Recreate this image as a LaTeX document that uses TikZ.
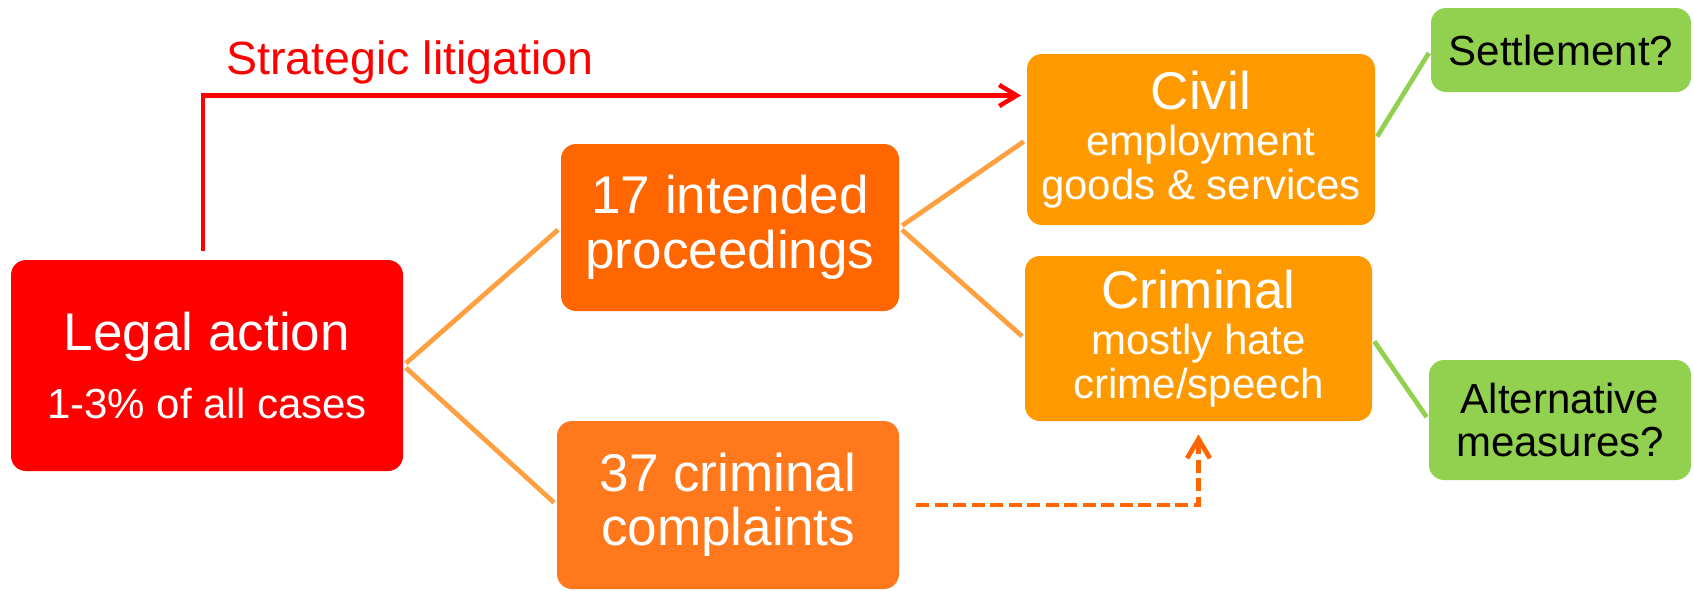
\documentclass[tikz,border=0pt]{standalone}
\usepackage{fontspec}
\setmainfont{Liberation Sans}
\definecolor{legalred}{RGB}{255,0,0}
\definecolor{procorange}{RGB}{255,102,0}
\definecolor{complorange}{RGB}{255,120,28}
\definecolor{branchorange}{RGB}{255,153,0}
\definecolor{linkorange}{RGB}{255,160,64}
\definecolor{outcomegreen}{RGB}{146,208,80}
\usetikzlibrary{arrows.meta}

\newcommand{\headfont}{\fontsize{30.2}{31}\selectfont}
\newcommand{\subfont}{\fontsize{23.9}{25}\selectfont}

\begin{document}
\begin{tikzpicture}[
  box/.style={rectangle, rounded corners=0.3cm, align=center, inner sep=0pt, text=white},
  outcome/.style={box, fill=outcomegreen, text=black, font=\fontsize{23.9}{25}\selectfont},
  link/.style={line width=2.7pt, linkorange, shorten <=2pt, shorten >=2pt},
  greenlink/.style={line width=2.7pt, outcomegreen, shorten <=2pt, shorten >=2pt},
  litarrow/.style={-{Straight Barb[length=10pt,width=12pt]}, line width=2.5pt, legalred},
  dasharrow/.style={-{Straight Barb[length=11pt,width=13pt]}, line width=2.7pt, procorange, dash pattern=on 0.26cm off 0.11cm}
]
  \useasboundingbox (0,0) rectangle (33.88,-11.8);

  % Level 0
  \node[box, fill=legalred, minimum width=7.84cm, minimum height=4.22cm, font=\subfont] (legal) at (4.14,-7.31)
    {{\headfont Legal action}\\[13.5pt]1-3\% of all cases};

  % Level 1
  \node[box, fill=procorange, minimum width=6.76cm, minimum height=3.34cm, font=\headfont] (proc) at (14.6,-4.55)
    {17 intended\\proceedings};
  \node[box, fill=complorange, minimum width=6.84cm, minimum height=3.36cm, font=\headfont] (compl) at (14.56,-10.1)
    {37 criminal\\complaints};

  % Level 2
  \node[box, fill=branchorange, minimum width=6.96cm, minimum height=3.42cm, font=\subfont] (civil) at (24.02,-2.79)
    {{\headfont Civil}\\[1.5pt]employment\\goods \& services};
  \node[box, fill=branchorange, minimum width=6.94cm, minimum height=3.3cm, font=\subfont] (crim) at (23.97,-6.77)
    {{\headfont Criminal}\\[1.5pt]mostly hate\\crime/speech};

  % Level 3
  \node[outcome, minimum width=5.2cm, minimum height=1.68cm] (settle) at (31.22,-1.0) {Settlement?};
  \node[outcome, minimum width=5.24cm, minimum height=2.4cm] (alt) at (31.2,-8.4) {Alternative\\measures?};

  % Strategic litigation shortcut
  \node[anchor=base west, text=legalred, font=\fontsize{26.5}{28}\selectfont] (stratlbl) at (4.4,-1.48) {Strategic litigation};
  \coordinate (litend) at (20.42,-1.91);
  \draw[litarrow] ([xshift=-0.08cm, yshift=0.18cm]legal.north) |- (litend);

  % Edges
  \draw[link] (legal.east) -- (proc.west);
  \draw[link] (legal.east) -- (compl.west);
  \draw[link] (proc.east) -- (civil.west);
  \draw[link] (proc.east) -- (crim.west);
  \draw[greenlink] (civil.east) -- (settle.west);
  \draw[greenlink] (crim.east) -- (alt.west);
  \draw[dasharrow, shorten <=0.34cm, shorten >=0.26cm] (compl.east) -| (crim.south);
\end{tikzpicture}
\end{document}
